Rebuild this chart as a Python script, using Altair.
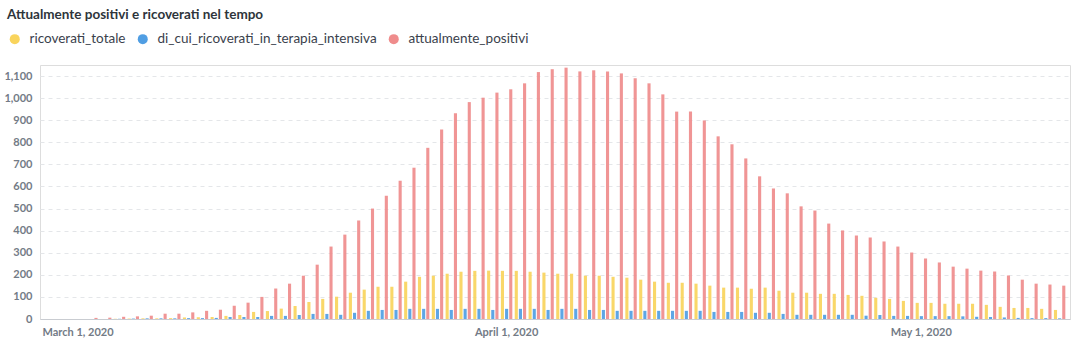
import altair as alt
import pandas as pd

dates = pd.date_range("2020-02-28", "2020-05-11").strftime("%Y-%m-%d").tolist()

series = ["ricoverati_totale", "di_cui_ricoverati_in_terapia_intensiva", "attualmente_positivi"]
colors = ["#F9D45C", "#509EE3", "#EF8C8C"]

attualmente_positivi = [
    0, 0, 0,
    5, 6, 10, 12, 15, 24, 24, 30, 37, 42,
    60, 74, 100, 138, 160, 196, 246, 328, 382, 446,
    500, 558, 626, 685, 775, 858, 931, 982, 1002, 1025,
    1040, 1067, 1118, 1131, 1138, 1121, 1126, 1121, 1112, 1090,
    1067, 1017, 939, 939, 899, 827, 791, 727, 646, 591,
    569, 510, 491, 432, 401, 378, 369, 351, 328, 301,
    274, 256, 237, 228, 219, 215, 197, 178, 160, 156, 151,
]
ricoverati_totale = [
    0, 0, 0,
    0, 0, 1, 2, 3, 3, 4, 7, 8, 9,
    14, 18, 32, 36, 47, 59, 77, 91, 101, 119,
    133, 146, 146, 169, 191, 196, 205, 214, 218, 219,
    218, 218, 214, 210, 205, 205, 196, 196, 191, 187,
    178, 169, 164, 164, 160, 151, 142, 142, 137, 142,
    128, 119, 119, 114, 114, 109, 105, 96, 91, 82,
    73, 73, 69, 69, 69, 64, 55, 50, 50, 46, 41,
]
terapia_intensiva = [
    0, 0, 0,
    0, 0, 1, 2, 3, 3, 3, 4, 4, 5,
    9, 9, 9, 14, 14, 18, 23, 23, 19, 28,
    37, 41, 41, 46, 46, 46, 41, 46, 46, 41,
    46, 46, 46, 41, 46, 46, 41, 41, 37, 37,
    37, 37, 37, 37, 37, 32, 32, 32, 28, 28,
    23, 19, 19, 19, 19, 19, 15, 18, 14, 14,
    13, 13, 13, 12, 10, 9, 7, 5, 4, 4, 3,
]

tick_dates = ["2020-03-01", "2020-04-01", "2020-05-01"]
tick_labels = ["March 1, 2020", "April 1, 2020", "May 1, 2020"]

rows = []
for name, vals in zip(series, [ricoverati_totale, terapia_intensiva, attualmente_positivi]):
    for d, v in zip(dates, vals):
        rows.append({"date": d, "series": name, "value": v})
df = pd.DataFrame(rows)

label_expr = " : ".join(
    f"datum.value == '{d}' ? '{l}'" for d, l in zip(tick_dates, tick_labels)
) + " : ''"

axis_label_color = "#737b86"

chart = (
    alt.Chart(df)
    .mark_bar(opacity=0.92)
    .encode(
        x=alt.X(
            "date:O",
            scale=alt.Scale(domain=dates, paddingInner=0.1, paddingOuter=0.3),
            axis=alt.Axis(
                values=tick_dates,
                labelExpr=label_expr,
                labelAngle=0,
                ticks=False,
                grid=False,
                domainColor="#c9ccd1",
                labelFont="Lato",
                labelFontWeight="bold",
                labelFontSize=11,
                labelColor=axis_label_color,
                labelPadding=7,
                title=None,
            ),
        ),
        xOffset=alt.XOffset(
            "series:N",
            sort=series,
            scale=alt.Scale(domain=series, paddingInner=0.25, paddingOuter=0.125),
        ),
        y=alt.Y(
            "value:Q",
            scale=alt.Scale(domain=[0, 1150], nice=False),
            axis=alt.Axis(
                values=list(range(0, 1200, 100)),
                format=",d",
                domain=False,
                ticks=False,
                grid=True,
                gridDash=[4, 4],
                gridColor="#e4e6e9",
                labelFont="Lato",
                labelFontWeight="bold",
                labelFontSize=11,
                labelColor=axis_label_color,
                labelPadding=8,
                title=None,
            ),
        ),
        color=alt.Color(
            "series:N",
            scale=alt.Scale(domain=series, range=colors),
            legend=alt.Legend(
                title=None,
                orient="none",
                legendX=-32,
                legendY=-33,
                direction="horizontal",
                columns=3,
                symbolType="circle",
                symbolSize=100,
                symbolStrokeWidth=0,
                symbolOpacity=1,
                labelFont="Lato",
                labelFontSize=13.5,
                labelLimit=0,
                labelColor="#3a414c",
                labelOffset=8,
                columnPadding=10,
            ),
        ),
    )
    .properties(
        width=1030,
        height=254,
        autosize=alt.AutoSizeParams(type="none"),
        padding={"left": 40, "top": 65, "right": 15, "bottom": 38},
        title=alt.TitleParams(
            text="Attualmente positivi e ricoverati nel tempo",
            anchor="start",
            frame="group",
            dx=-33,
            offset=11,
            font="Lato",
            fontSize=13.5,
            fontWeight="bold",
            color="#2e353b",
        ),
    )
    .configure_view(strokeWidth=0)
    .configure(background="white")
)

chart.save("out.html", embed_options={"renderer": "svg", "actions": False})
